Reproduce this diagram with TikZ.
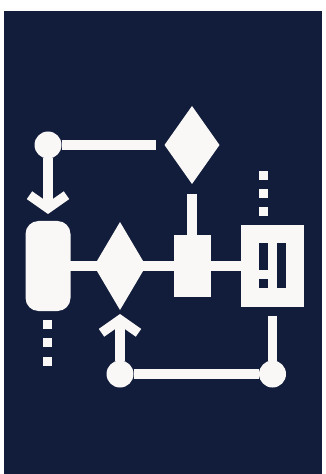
\documentclass[tikz,border=0pt]{standalone}
\usetikzlibrary{arrows.meta,shapes.geometric}

\definecolor{panelblue}{HTML}{121D3B}
\definecolor{shapewhite}{HTML}{FAF8F6}

\begin{document}
\begin{tikzpicture}[
	panel/.style={
		rectangle,
		fill=panelblue,
		minimum width=6.36cm,
		minimum height=9.26cm,
		inner sep=0pt,
		outer sep=0pt
	},
	junction/.style={
		circle,
		fill=shapewhite,
		minimum size=0.54cm,
		inner sep=0pt,
		outer sep=0pt
	},
	decision/.style={
		diamond,
		fill=shapewhite,
		inner sep=0pt,
		outer sep=0pt
	},
	startbox/.style={
		rectangle,
		rounded corners=0.26cm,
		fill=shapewhite,
		minimum width=0.9cm,
		minimum height=1.8cm,
		inner sep=0pt,
		outer sep=0pt
	},
	process/.style={
		rectangle,
		fill=shapewhite,
		inner sep=0pt,
		outer sep=0pt
	},
	dot/.style={
		rectangle,
		fill=shapewhite,
		minimum size=0.18cm,
		inner sep=0pt,
		outer sep=0pt
	},
	hole/.style={
		rectangle,
		fill=panelblue,
		minimum width=0.18cm,
		inner sep=0pt,
		outer sep=0pt
	},
	link/.style={line width=0.19cm, draw=shapewhite},
	edge/.style={
		line width=0.19cm,
		draw=shapewhite,
		-{Straight Barb[length=2.6mm, width=7.4mm]}
	}
]
\useasboundingbox (0,0) rectangle (6.5,-9.48);

\node[panel] (back) at (3.26,-4.85) {};

\node[junction] (topj) at (0.96,-2.90) {};
\node[decision, minimum width=1.10cm, minimum height=1.56cm] (topd) at (3.84,-2.90) {};
\node[startbox] (start) at (0.96,-5.32) {};
\node[decision, minimum width=1.04cm, minimum height=1.76cm] (midd) at (2.40,-5.32) {};
\node[process, minimum width=0.74cm, minimum height=1.24cm] (small) at (3.84,-5.32) {};
\node[process, minimum width=1.26cm, minimum height=1.62cm] (big) at (5.45,-5.32) {};
\node[junction] (leftj) at (2.40,-7.48) {};
\node[junction] (rightj) at (5.45,-7.48) {};

\draw[link, shorten >=0.18cm] (topj) -- (topd);
\draw[edge, shorten >=0.14cm] (topj) -- (start);
\draw[link, shorten <=0.20cm] (topd) -- (small);
\draw[link] (start.center) -- (midd.center);
\draw[link] (midd.center) -- (small.center);
\draw[link] (small.center) -- (big.center);
\draw[link, shorten <=0.18cm] (big) -- (rightj);
\draw[link] (rightj) -- (leftj);
\draw[edge, shorten >=0.08cm] (leftj) -- (midd);

\node[hole, minimum height=0.54cm] (bara) at (5.27,-5.13) {};
\node[hole, minimum height=0.18cm] (dota) at (5.27,-5.67) {};
\node[hole, minimum height=0.90cm] (barb) at (5.63,-5.31) {};

\node[dot] (upa) at (5.27,-3.51) {};
\node[dot] (upb) at (5.27,-3.87) {};
\node[dot] (upc) at (5.27,-4.24) {};
\node[dot] (downa) at (0.95,-6.49) {};
\node[dot] (downb) at (0.95,-6.85) {};
\node[dot] (downc) at (0.95,-7.22) {};
\end{tikzpicture}
\end{document}
